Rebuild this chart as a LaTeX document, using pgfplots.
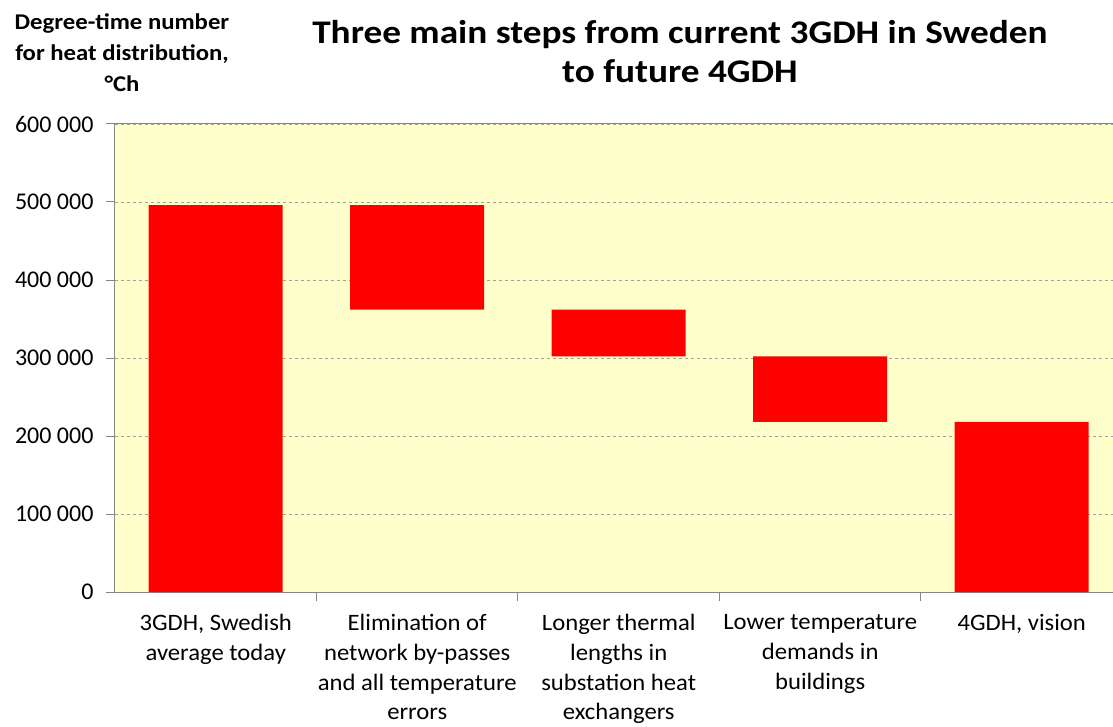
\documentclass[border=0pt]{standalone}
\usepackage{pgfplots}
\pgfplotsset{compat=1.18}
\usepackage{fontspec}
\setmainfont{Carlito}
\newfontfamily\labelfont[FakeStretch=1.05]{Carlito}
\newfontfamily\ylabfont[FakeStretch=1.1]{Carlito}
\newfontfamily\titlefont[FakeStretch=1.13]{Carlito}
\definecolor{bgyellow}{HTML}{FFFFCC}
\definecolor{axgray}{HTML}{868686}
\definecolor{gridgray}{HTML}{A0A0A0}
\begin{document}
\begin{tikzpicture}
\useasboundingbox (-115pt,-134pt) rectangle (998pt,592pt);
\begin{axis}[
  scale only axis, width=998pt, height=468pt,
  at={(0,0)}, anchor=south west,
  xmin=-0.5, xmax=4.453, ymin=0, ymax=600000,
  ybar stacked, bar width=134pt,
  axis background/.style={fill=bgyellow},
  separate axis lines,
  axis x line*=box, axis y line*=left,
  axis line style={axgray, line width=1pt},
  ytick={0,100000,...,600000},
  yticklabels={0,100 000,200 000,300 000,400 000,500 000,600 000},
  scaled y ticks=false,
  ymajorgrids, major grid style={gridgray, dashed, line width=0.8pt},
  xtick={0,1,2,3,4},
  xticklabels={{3GDH, Swedish\\average today},{Elimination of\\network by-passes\\and all temperature\\errors},{Longer thermal\\lengths in\\substation heat\\exchangers},{Lower temperature\\demands in\\buildings},{4GDH, vision}},
  tick align=outside,
  major tick length=0pt,
  minor tick length=9pt,
  minor xtick={0.5,1.5,2.5,3.5},
  minor ytick={0,100000,200000,300000,400000,500000,600000},
  tick style={axgray, line width=1pt},
  xtick pos=left, ytick pos=left,
  yticklabel style={font=\fontsize{24}{28}\selectfont, xshift=-18pt},
  xticklabel style={font=\labelfont\fontsize{23.5}{29.7}\selectfont, align=center, anchor=north, yshift=-19pt},
]
\addplot[draw=none, fill=none] coordinates {(0,0) (1,362000) (2,302000) (3,218000) (4,0)};
\addplot[fill=red, draw=none] coordinates {(0,496000) (1,134000) (2,60000) (3,84000) (4,218000)};
\end{axis}
\node[font=\titlefont\fontsize{33}{39}\selectfont\bfseries, align=center] at (565pt,540pt) {Three main steps from current 3GDH in Sweden\\to future 4GDH};
\node[font=\ylabfont\fontsize{22.5}{31}\selectfont\bfseries, align=center] at (7pt,539pt) {Degree-time number\\for heat distribution,\\°Ch};
\end{tikzpicture}
\end{document}
